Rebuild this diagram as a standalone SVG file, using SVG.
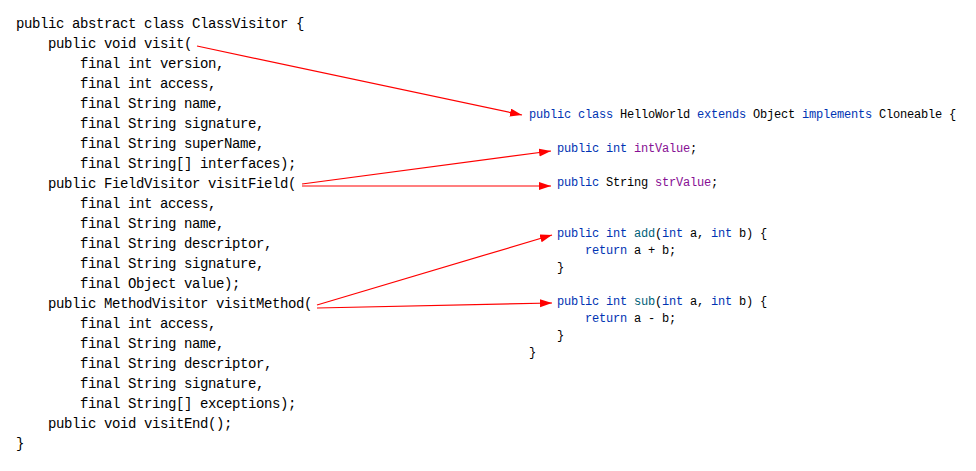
<svg xmlns="http://www.w3.org/2000/svg" width="976" height="471" viewBox="0 0 976 471">
<style>
.l{font-family:"Liberation Mono","DejaVu Sans Mono",monospace;font-size:14px;letter-spacing:-0.4px;fill:#000;white-space:pre}
.r{font-family:"Liberation Mono","DejaVu Sans Mono",monospace;font-size:12px;letter-spacing:-0.2px;fill:#000;white-space:pre}
.k{fill:#0033B3}
.f{fill:#871094}
.m{fill:#00627A}
.c{stroke:#ff0000;stroke-width:1.2;fill:none;marker-end:url(#ah)}
</style>
<defs>
<marker id="ah" markerUnits="userSpaceOnUse" markerWidth="13" markerHeight="9" refX="12" refY="4" orient="auto">
<path d="M0,0 L12,4 L0,8 Z" fill="#ff0000"/>
</marker>
</defs>
<rect width="976" height="471" fill="#ffffff"/>
<g id="classvisitor">
<text class="l" x="16" y="28">public abstract class ClassVisitor {</text>
<text class="l" x="48" y="48">public void visit(</text>
<text class="l" x="80" y="68">final int version,</text>
<text class="l" x="80" y="88">final int access,</text>
<text class="l" x="80" y="108">final String name,</text>
<text class="l" x="80" y="128">final String signature,</text>
<text class="l" x="80" y="148">final String superName,</text>
<text class="l" x="80" y="168">final String[] interfaces);</text>
<text class="l" x="48" y="188">public FieldVisitor visitField(</text>
<text class="l" x="80" y="208">final int access,</text>
<text class="l" x="80" y="228">final String name,</text>
<text class="l" x="80" y="248">final String descriptor,</text>
<text class="l" x="80" y="268">final String signature,</text>
<text class="l" x="80" y="288">final Object value);</text>
<text class="l" x="48" y="308">public MethodVisitor visitMethod(</text>
<text class="l" x="80" y="328">final int access,</text>
<text class="l" x="80" y="348">final String name,</text>
<text class="l" x="80" y="368">final String descriptor,</text>
<text class="l" x="80" y="388">final String signature,</text>
<text class="l" x="80" y="408">final String[] exceptions);</text>
<text class="l" x="48" y="428">public void visitEnd();</text>
<text class="l" x="16" y="448">}</text>
</g>
<g id="helloworld">
<text class="r" x="529" y="118"><tspan class="k">public class</tspan> HelloWorld <tspan class="k">extends</tspan> Object <tspan class="k">implements</tspan> Cloneable {</text>
<text class="r" x="529" y="356">}</text>
</g>
<g id="field-int">
<text class="r" x="557" y="152"><tspan class="k">public int</tspan> <tspan class="f">intValue</tspan>;</text>
</g>
<g id="field-str">
<text class="r" x="557" y="186"><tspan class="k">public</tspan> String <tspan class="f">strValue</tspan>;</text>
</g>
<g id="method-add">
<text class="r" x="557" y="237"><tspan class="k">public int</tspan> <tspan class="m">add</tspan>(<tspan class="k">int</tspan> a, <tspan class="k">int</tspan> b) {</text>
<text class="r" x="585" y="254"><tspan class="k">return</tspan> a + b;</text>
<text class="r" x="557" y="271">}</text>
</g>
<g id="method-sub">
<text class="r" x="557" y="305"><tspan class="k">public int</tspan> <tspan class="m">sub</tspan>(<tspan class="k">int</tspan> a, <tspan class="k">int</tspan> b) {</text>
<text class="r" x="585" y="322"><tspan class="k">return</tspan> a - b;</text>
<text class="r" x="557" y="339">}</text>
</g>
<g id="connectors">
<line class="c" x1="197" y1="46" x2="522" y2="115"/>
<line class="c" x1="302" y1="184" x2="551" y2="151"/>
<line class="c" x1="302" y1="186" x2="551" y2="186"/>
<line class="c" x1="317" y1="305" x2="552" y2="235"/>
<line class="c" x1="317" y1="308" x2="552" y2="303"/>
</g>
</svg>
